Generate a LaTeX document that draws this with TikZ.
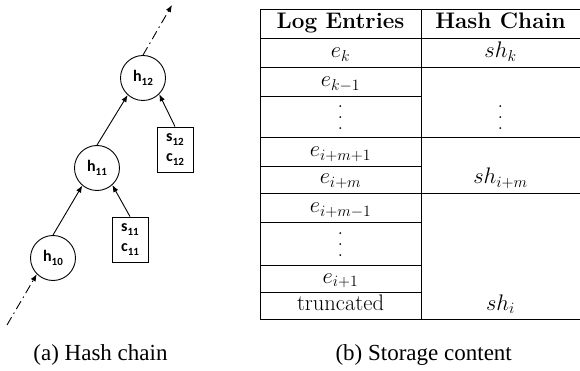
\RequirePackage{fix-cm}
\documentclass[tikz,border=0pt]{standalone}
\usepackage{fontspec}
\usetikzlibrary{arrows.meta}
\newfontfamily\carlitofont{Carlito}[BoldFont={Carlito Bold}]
\newfontfamily\capfont{Liberation Serif}
\newcommand\nsub[1]{\raisebox{-0.22em}{\fontsize{11}{11}\selectfont #1}}
\newcommand\tallvdots{\vbox{\baselineskip=11pt\lineskiplimit=0pt\hbox{.}\hbox{.}\hbox{.}}}
\tikzset{
  hnode/.style={circle,draw,line width=0.9pt,minimum size=45pt,inner sep=0pt,
     font=\carlitofont\bfseries\fontsize{16}{16}\selectfont},
  sbox/.style={rectangle,draw,line width=0.9pt,minimum width=36pt,minimum height=45pt,inner sep=0pt,
     align=center,font=\carlitofont\bfseries\fontsize{16}{20}\selectfont},
  harrow/.style={line width=0.9pt,-{Latex[length=7pt,width=5.5pt]}},
  dotted chain/.style={line width=0.9pt,dash pattern=on 9pt off 4pt on 1.5pt off 4pt},
  tline/.style={line width=0.9pt},
  cell/.style={anchor=base,inner sep=0pt,font=\fontsize{22.5}{27}\selectfont},
  vcell/.style={inner sep=0pt,font=\fontsize{22.5}{27}\selectfont},
  captext/.style={anchor=base,inner sep=0pt,font=\capfont\fontsize{23}{27}\selectfont}
}
\begin{document}
\begin{tikzpicture}[x=1pt,y=-1pt]
\useasboundingbox (0,0) rectangle (580,371);
% ---- hash chain ----
\node[hnode] (h10) at (53,258) {h\nsub{10}};
\node[hnode] (h11) at (97,168) {h\nsub{11}};
\node[hnode] (h12) at (143,78) {h\nsub{12}};
\node[sbox] (s11) at (130,239.5) {s\nsub{11}\\c\nsub{11}};
\node[sbox] (s12) at (175,149.5) {s\nsub{12}\\c\nsub{12}};
\coordinate (topend) at (172,5);
\coordinate (botstart) at (7,325);
\draw[harrow] (h10.north) -- (h11.230);
\draw[harrow] (h11.north) -- (h12.228);
\draw[harrow] (s11.north) -- (h11.-48);
\draw[harrow] (s12.north) -- (h12.-45);
\draw[dotted chain,-{Latex[length=7pt,width=5.5pt]}] (h12.north) -- (topend);
\draw[dotted chain,-{Latex[length=7pt,width=5.5pt]}] (botstart) -- (h10.225);
% ---- table ----
\draw[tline] (260,9) rectangle (581,319);
\draw[tline] (421,9) -- (421,319);
\foreach \yy in {38,67,137,193} \draw[tline] (260,\yy) -- (581,\yy);
\foreach \yy in {96,166,222,265,292} \draw[tline] (260,\yy) -- (421,\yy);
\node[cell] (hl) at (340.5,29) {\bfseries Log Entries};
\node[cell] (hr) at (500.5,29) {\bfseries Hash Chain};
\node[cell] (e1) at (340.5,58) {$e_k$};
\node[cell] (r1) at (500.5,58) {$sh_k$};
\node[cell] (e2) at (340.5,87) {$e_{k-1}$};
\node[vcell] (e3) at (340.5,118) {\tallvdots};
\node[vcell] (r2) at (500.5,118) {\tallvdots};
\node[cell] (e4) at (340.5,157) {$e_{i+m+1}$};
\node[cell] (e5) at (340.5,184) {$e_{i+m}$};
\node[cell] (r3) at (500.5,184) {$sh_{i+m}$};
\node[cell] (e6) at (340.5,213) {$e_{i+m-1}$};
\node[vcell] (e7) at (340.5,245) {\tallvdots};
\node[cell] (e8) at (340.5,283) {$e_{i+1}$};
\node[cell] (e9) at (340.5,310) {truncated};
\node[cell] (r4) at (500.5,310) {$sh_i$};
% ---- captions ----
\node[captext] (capa) at (100.5,360) {(a) Hash chain};
\node[captext] (capb) at (423.7,360) {(b) Storage content};
\end{tikzpicture}
\end{document}
